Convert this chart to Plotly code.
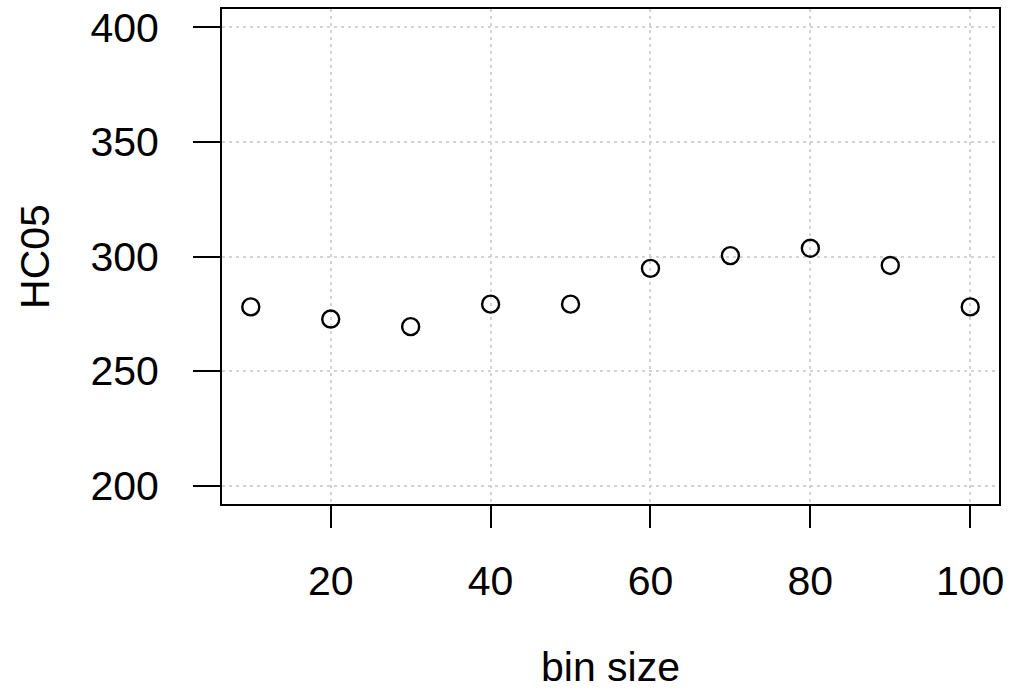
import plotly.graph_objects as go

bin_size = [10, 20, 30, 40, 50, 60, 70, 80, 90, 100]
hc05 = [278.0, 272.7, 269.4, 279.2, 279.2, 294.8, 300.4, 303.6, 296.1, 278.0]
x_ticks = [20, 40, 60, 80, 100]
y_ticks = [200, 250, 300, 350, 400]

font = dict(family="Liberation Sans, Arial, sans-serif", size=41, color="black")

fig = go.Figure()
fig.add_trace(go.Scatter(
    x=bin_size, y=hc05, mode="markers",
    marker=dict(symbol="circle-open", size=17, color="black", line=dict(width=2.4, color="black")),
    showlegend=False,
))

fig.update_layout(
    width=1016, height=690,
    margin=dict(l=222, r=17, t=9, b=186),
    plot_bgcolor="white", paper_bgcolor="white",
    font=font,
)
fig.update_xaxes(
    range=[6.4, 103.6], tickvals=x_ticks, ticktext=[str(v) for v in x_ticks],
    showline=True, linecolor="black", linewidth=2, mirror=True,
    ticks="outside", ticklen=22, tickwidth=2, tickcolor="black",
    ticklabelstandoff=18,
    showgrid=True, gridcolor="#d3d3d3", griddash="3px,4px", gridwidth=1.5,
    zeroline=False,
    title=dict(text="bin size", font=font, standoff=62),
    automargin=False,
)
fig.update_yaxes(
    range=[192, 408], tickvals=y_ticks, ticktext=[str(v) for v in y_ticks],
    showline=True, linecolor="black", linewidth=2, mirror=True,
    ticks="outside", ticklen=27, tickwidth=2, tickcolor="black",
    ticklabelstandoff=26,
    showgrid=True, gridcolor="#d3d3d3", griddash="3px,4px", gridwidth=1.5,
    zeroline=False,
    title=dict(text="HC05", font=font, standoff=28),
    automargin=False,
)

fig.write_html("out.html")
